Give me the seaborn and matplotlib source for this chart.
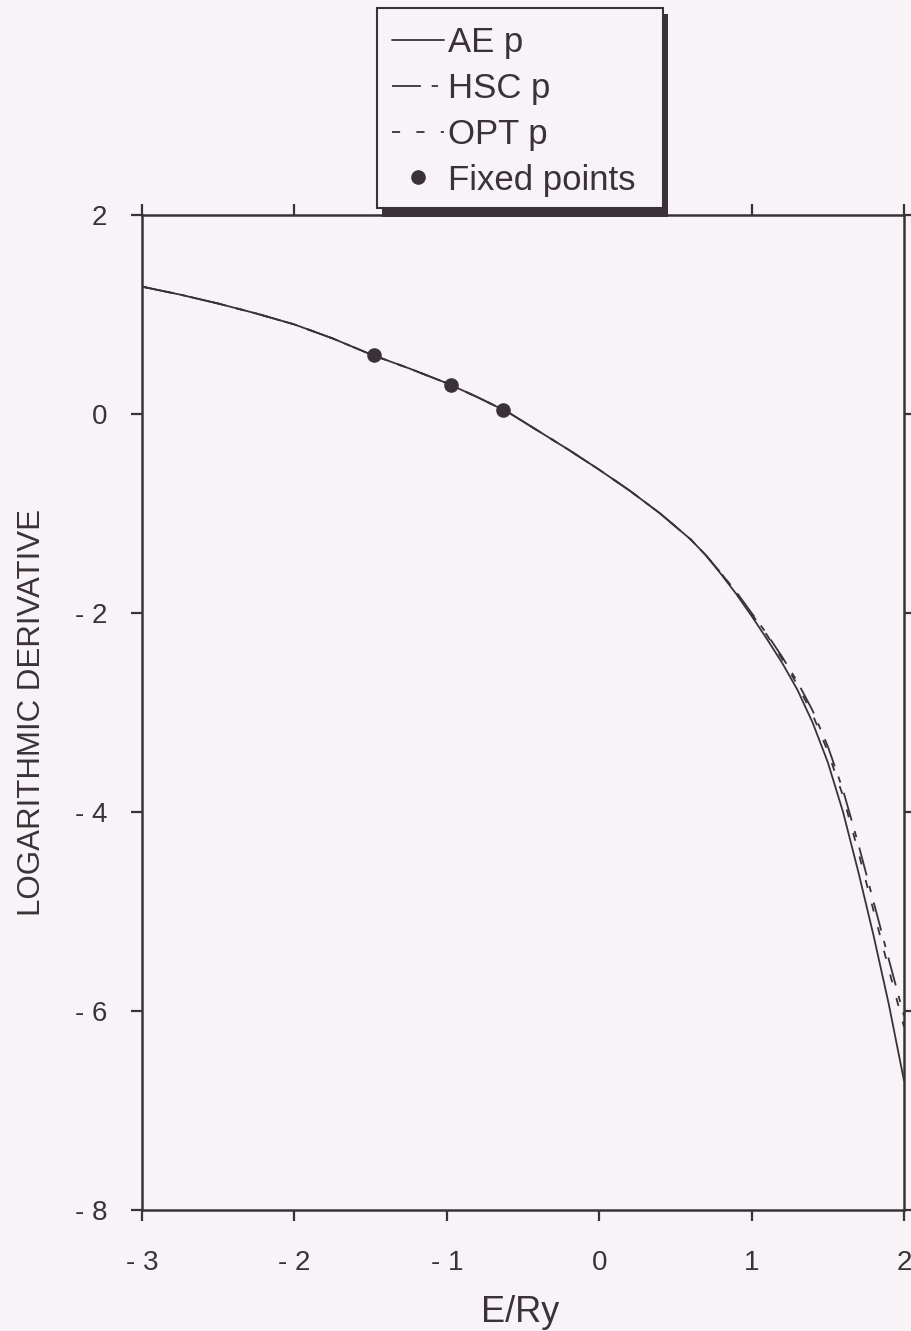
import matplotlib
matplotlib.use("Agg")
import matplotlib.pyplot as plt
from matplotlib.lines import Line2D
from matplotlib.patches import Rectangle
import numpy as np
import pandas as pd
import seaborn as sns

# ---------------- data ----------------
energy = [-3, -2.75, -2.5, -2.25, -2, -1.75, -1.5, -1.25, -1, -0.8, -0.6, -0.4,
          -0.2, 0, 0.2, 0.4, 0.6, 0.7, 0.8, 0.9, 1.0, 1.1, 1.2, 1.3, 1.4, 1.5,
          1.6, 1.7, 1.8, 1.9, 2.0]
ae_p = [1.28, 1.20, 1.11, 1.01, 0.90, 0.76, 0.60, 0.46, 0.31, 0.17, 0.02, -0.17,
        -0.36, -0.56, -0.77, -1.00, -1.26, -1.42, -1.61, -1.81, -2.03, -2.26,
        -2.50, -2.77, -3.10, -3.50, -4.00, -4.60, -5.24, -5.93, -6.70]
hsc_p = [1.28, 1.20, 1.11, 1.01, 0.90, 0.76, 0.60, 0.46, 0.31, 0.17, 0.02, -0.17,
         -0.36, -0.56, -0.77, -1.00, -1.26, -1.42, -1.60, -1.79, -2.00, -2.21,
         -2.44, -2.69, -2.98, -3.34, -3.78, -4.32, -4.90, -5.48, -6.05]
opt_p = [1.28, 1.20, 1.11, 1.01, 0.90, 0.76, 0.60, 0.46, 0.31, 0.17, 0.02, -0.17,
         -0.36, -0.56, -0.77, -1.00, -1.26, -1.42, -1.60, -1.80, -2.01, -2.22,
         -2.46, -2.72, -3.02, -3.39, -3.84, -4.40, -4.99, -5.58, -6.16]
fixed_x = [-1.48, -0.97, -0.63]
fixed_y = [0.59, 0.29, 0.04]

series_names = ["AE p", "HSC p", "OPT p"]
xticks = [-3, -2, -1, 0, 1, 2]
xticklabels = ["- 3", "- 2", "- 1", "0", "1", "2"]
yticks = [-8, -6, -4, -2, 0, 2]
yticklabels = ["- 8", "- 6", "- 4", "- 2", "0", "2"]

# ---------------- style ----------------
sns.set_theme(style="ticks")
plt.rcParams["font.family"] = ["Liberation Sans", "DejaVu Sans"]
INK = "#3b3237"
BG = "#f7f3f6"

df = pd.DataFrame({
    "E": energy * 3,
    "D": ae_p + hsc_p + opt_p,
    "series": [series_names[0]] * len(energy) + [series_names[1]] * len(energy)
              + [series_names[2]] * len(energy),
})

W, H = 911, 1331
fig = plt.figure(figsize=(W / 100, H / 100), dpi=100, facecolor=BG)
L, R, T, B = 142, 904, 215, 1210
ax = fig.add_axes([L / W, 1 - B / H, (R - L) / W, (B - T) / H])
ax.set_facecolor(BG)

HSC_DASH = (16, 6, 3.5, 6)
OPT_DASH = (4.5, 9)
dash_map = {"AE p": "", "HSC p": HSC_DASH, "OPT p": OPT_DASH}
sns.lineplot(data=df, x="E", y="D", style="series", dashes=dash_map,
             color=INK, linewidth=1.3, sort=False, estimator=None,
             legend=False, ax=ax)
sns.scatterplot(x=fixed_x, y=fixed_y, color=INK, s=110, edgecolor=INK,
                linewidth=0, zorder=5, ax=ax, legend=False)

ax.set_xlim(-3, 2)
ax.set_ylim(-8, 2)
ax.set_xticks(xticks)
ax.set_xticklabels(xticklabels)
ax.set_yticks(yticks)
ax.set_yticklabels(yticklabels)
ax.tick_params(direction="out", length=8, width=1.6, colors=INK,
               top=True, right=True, labeltop=False, labelright=False,
               labelsize=20, pad=17)
ax.tick_params(axis="x", pad=21)
for s in ax.spines.values():
    s.set_visible(True)
    s.set_linewidth(1.8)
    s.set_color(INK)

ax.set_xlabel("E/Ry", fontsize=26, color=INK, va="center")
ax.xaxis.set_label_coords(0.496, -0.1035)
ax.set_ylabel("LOGARITHMIC DERIVATIVE", fontsize=22.5, color=INK,
              rotation=90, ha="center", va="center")
ax.yaxis.set_label_coords((32 - L) / (R - L), 0.5)

# ---------------- legend box with heavy shadow ----------------
def fig_rect(x0, y0, x1, y1, **kw):
    return Rectangle((x0 / W, 1 - y1 / H), (x1 - x0) / W, (y1 - y0) / H,
                     transform=fig.transFigure, **kw)

fig.patches.append(fig_rect(382, 14, 668, 217, facecolor=INK, edgecolor="none", zorder=3))
fig.patches.append(fig_rect(377, 8, 663, 208, facecolor=BG, edgecolor=INK,
                            linewidth=1.5, zorder=4))

handles = [
    Line2D([], [], color=INK, lw=1.3, linestyle="-"),
    Line2D([], [], color=INK, lw=1.3, linestyle=(0, HSC_DASH)),
    Line2D([], [], color=INK, lw=1.3, linestyle=(0, OPT_DASH)),
    Line2D([], [], color=INK, lw=0, marker="o", markersize=9.5),
]
leg = fig.legend(handles, series_names + ["Fixed points"], loc="upper left",
                 bbox_to_anchor=(392 / W, 1 - 26 / H), frameon=False,
                 fontsize=25, handlelength=1.5, handletextpad=0.1,
                 labelspacing=0.37, borderpad=0, borderaxespad=0,
                 labelcolor=INK)
leg.set_zorder(6)

fig.savefig("out.png", dpi=100, facecolor=BG)
